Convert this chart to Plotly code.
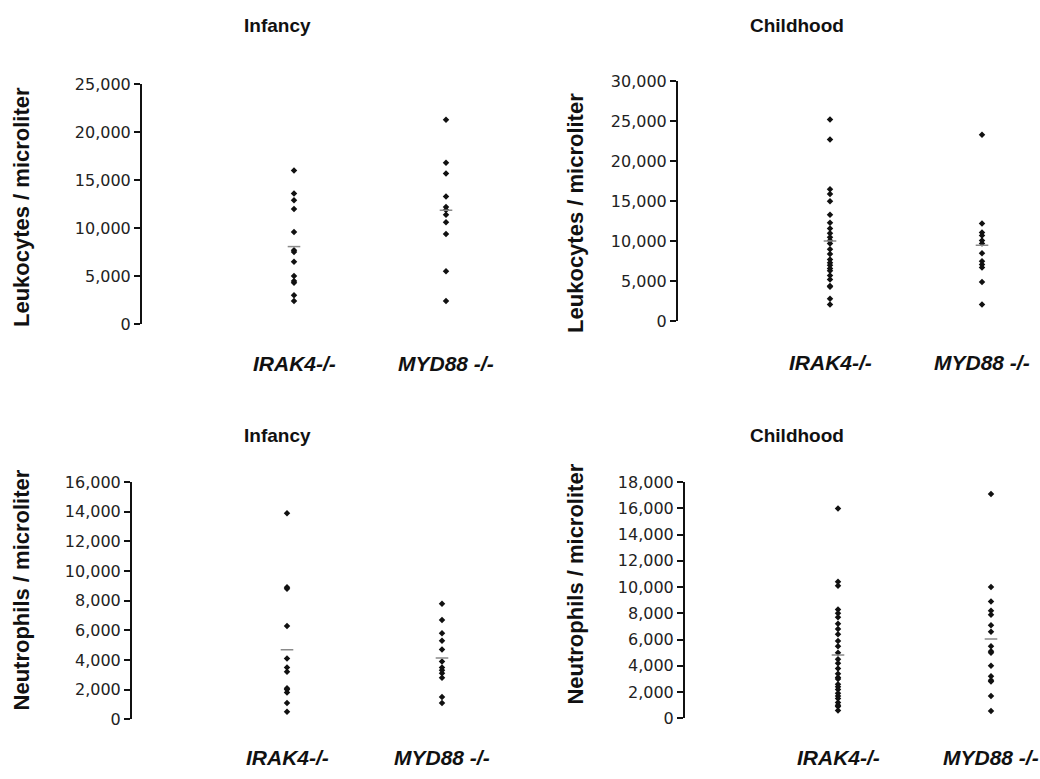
import numpy as np
import plotly.graph_objects as go

groups = ["IRAK4-/-", "MYD88 -/-"]

# Leukocytes per microliter
leuko_infancy_irak4 = [16000, 13600, 12900, 12000, 9600, 7700, 7500, 6500, 5000, 4500, 4300, 3000, 2400]
leuko_infancy_myd88 = [21300, 16800, 15700, 13300, 12200, 11900, 11400, 10600, 9400, 5500, 2400]
leuko_child_irak4 = [25200, 22700, 16500, 15900, 15000, 13300, 12300, 11600, 11000, 10500, 10100,
                     9700, 9000, 8400, 7700, 7300, 7000, 6600, 6300, 5700, 5200, 4400, 4300, 2800, 2100]
leuko_child_myd88 = [23300, 12200, 11100, 10700, 10100, 9700, 8500, 7500, 7100, 6700, 4900, 2100]

# Neutrophils per microliter
neutro_infancy_irak4 = [13900, 8900, 8800, 6300, 4100, 3500, 3200, 2100, 2000, 1800, 1100, 500]
neutro_infancy_myd88 = [7800, 6700, 5800, 5300, 4700, 3900, 3500, 3300, 3100, 2800, 1500, 1100]
neutro_child_irak4 = [16000, 10400, 10100, 8300, 8000, 7700, 7200, 6800, 6400, 5900, 5500, 5000, 4500,
                      4200, 3800, 3400, 3100, 3000, 2600, 2400, 2200, 1900, 1700, 1500, 1200, 1000, 900, 600]
neutro_child_myd88 = [17100, 10000, 8900, 8200, 7900, 7100, 6600, 5500, 5100, 5000, 4000, 3200, 2900,
                      2800, 1700, 550]

leuko_infancy_ticks = [0, 5000, 10000, 15000, 20000, 25000]
leuko_child_ticks = [0, 5000, 10000, 15000, 20000, 25000, 30000]
neutro_infancy_ticks = [0, 2000, 4000, 6000, 8000, 10000, 12000, 14000, 16000]
neutro_child_ticks = [0, 2000, 4000, 6000, 8000, 10000, 12000, 14000, 16000, 18000]

W, H = 1040, 779

# panel geometry in pixels
panels = [
    dict(title="Infancy", ytitle="Leukocytes / microliter", series=(leuko_infancy_irak4, leuko_infancy_myd88),
         ticks=leuko_infancy_ticks, ax=142, top=77, bot=323, step=152, xmax=2.5,
         title_xy=(277, 17), ytitle_xy=(21, 203), lab_y=363),
    dict(title="Childhood", ytitle="Leukocytes / microliter", series=(leuko_child_irak4, leuko_child_myd88),
         ticks=leuko_child_ticks, ax=678, top=74, bot=320, step=152, xmax=2.3,
         title_xy=(797, 17), ytitle_xy=(576, 209), lab_y=362),
    dict(title="Infancy", ytitle="Neutrophils / microliter", series=(neutro_infancy_irak4, neutro_infancy_myd88),
         ticks=neutro_infancy_ticks, ax=132, top=485, bot=728, step=155, xmax=2.5,
         title_xy=(277, 437), ytitle_xy=(21, 596), lab_y=767),
    dict(title="Childhood", ytitle="Neutrophils / microliter", series=(neutro_child_irak4, neutro_child_myd88),
         ticks=neutro_child_ticks, ax=685, top=485, bot=727, step=153, xmax=2.3,
         title_xy=(797, 437), ytitle_xy=(576, 590), lab_y=767),
]

fig = go.Figure()
annotations = []
layout_axes = {}

for i, p in enumerate(panels, start=1):
    xa = "x" if i == 1 else f"x{i}"
    ya = "y" if i == 1 else f"y{i}"
    x0 = p["ax"] / W
    x1 = (p["ax"] + p["xmax"] * p["step"]) / W
    y0 = 1 - p["bot"] / H
    y1 = 1 - p["top"] / H

    for k, vals in enumerate(p["series"]):
        pos = k + 1
        fig.add_trace(go.Scatter(
            x=[pos] * len(vals), y=vals, mode="markers", xaxis=xa, yaxis=ya,
            marker=dict(symbol="diamond", size=5, color="#111111"),
            showlegend=False, hoverinfo="y"))
        # group mean
        fig.add_trace(go.Scatter(
            x=[pos], y=[float(np.mean(vals))], mode="markers", xaxis=xa, yaxis=ya,
            marker=dict(symbol="line-ew", size=9, line=dict(color="#8a8a8a", width=1.5)),
            showlegend=False, hoverinfo="y"))

    ymax = p["ticks"][-1]
    layout_axes["xaxis" if i == 1 else f"xaxis{i}"] = dict(
        domain=[x0, x1], range=[0, p["xmax"]], anchor=ya, showline=False, showgrid=False,
        zeroline=False, showticklabels=False, ticks="")
    layout_axes["yaxis" if i == 1 else f"yaxis{i}"] = dict(
        domain=[y0, y1], range=[0, ymax], anchor=xa, showline=True, linecolor="#111111", linewidth=2,
        showgrid=False, zeroline=False, ticks="outside", ticklen=6, tickwidth=1.5, tickcolor="#111111",
        tickvals=p["ticks"], ticktext=[f"{t:,}" for t in p["ticks"]],
        tickfont=dict(family="DejaVu Sans", size=16, color="#222222"))

    tx, ty = p["title_xy"]
    annotations.append(dict(
        text="<b>" + p["title"] + "</b>", x=tx / W, y=1 - ty / H,
        xref="paper", yref="paper", showarrow=False, xanchor="center", yanchor="middle",
        font=dict(family="Liberation Sans", size=19, color="#111111")))
    yx, yy = p["ytitle_xy"]
    annotations.append(dict(
        text="<b>" + p["ytitle"] + "</b>", x=yx / W, y=1 - yy / H,
        xref="paper", yref="paper", showarrow=False, textangle=-90, xanchor="center", yanchor="middle",
        font=dict(family="Liberation Sans", size=22, color="#111111")))
    for k, g in enumerate(groups):
        annotations.append(dict(
            text="<b><i>" + g + "</i></b>", x=k + 1, y=1 - p["lab_y"] / H,
            xref=xa, yref="paper", showarrow=False, xanchor="center", yanchor="middle",
            font=dict(family="Liberation Sans", size=21, color="#111111")))

fig.update_layout(
    width=W, height=H, margin=dict(l=0, r=0, t=0, b=0),
    paper_bgcolor="white", plot_bgcolor="white",
    annotations=annotations, **layout_axes)

fig.write_html("out.html")
